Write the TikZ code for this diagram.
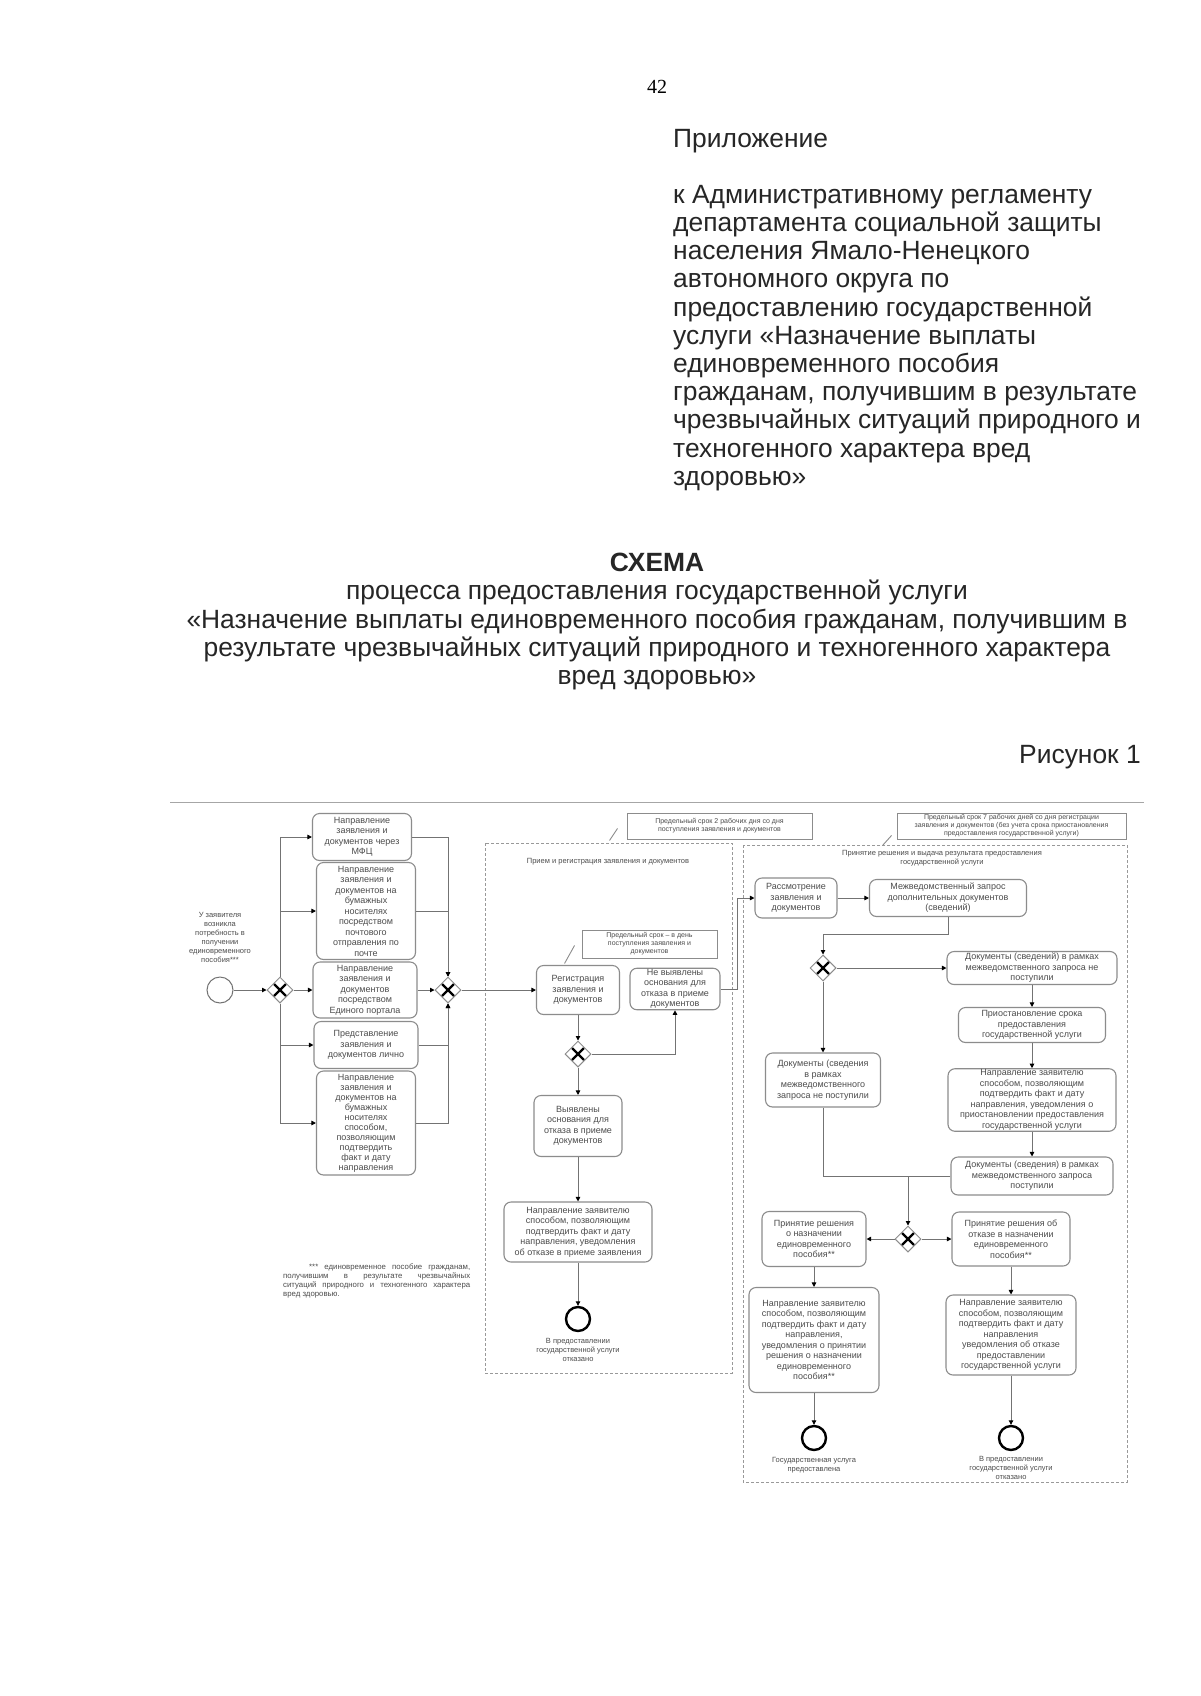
\documentclass[tikz,border=0pt]{standalone}
\usepackage{fontspec}
\setmainfont{Liberation Sans}
\newfontfamily\pagenumfont{Liberation Serif}
\usetikzlibrary{arrows.meta,positioning,calc,shapes.geometric}

\begin{document}
\begin{tikzpicture}[
  x=1pt, y=-1pt,
  node distance=4pt,
  head/.style={font=\fontsize{26.4}{28.2}\selectfont, inner sep=0pt, text=black!85},
  task/.style={draw=black!45, line width=1.1pt, rounded corners=7pt, align=center,
               inner sep=1pt, text=black!70, font=\fontsize{9}{10.5}\selectfont},
  gw/.style={diamond, draw=black!45, line width=1pt, minimum size=26pt, inner sep=0pt,
             path picture={\draw[black, line width=2.4pt]
               ([shift={(-6,-6)}]path picture bounding box.center) -- ++(12,12)
               ([shift={(-6,6)}]path picture bounding box.center) -- ++(12,-12);}},
  startev/.style={circle, draw=black!55, line width=1pt, minimum size=26pt, inner sep=0pt},
  endev/.style={circle, draw=black, line width=2.4pt, minimum size=24pt, inner sep=0pt},
  note/.style={draw=black!45, line width=0.9pt, align=center, inner sep=1pt,
               text=black!70, font=\fontsize{7}{8}\selectfont},
  lbl/.style={align=center, inner sep=0pt, text=black!70, font=\fontsize{7.5}{9}\selectfont},
  region/.style={draw=black!40, line width=0.8pt, dash pattern=on 3pt off 2pt},
  arr/.style={-{Triangle[length=4.5pt, width=4.5pt, color=black]}, draw=black!55, line width=0.9pt},
  line/.style={draw=black!55, line width=0.9pt}
]
\useasboundingbox[fill=white] (0,0) rectangle (1200,1696);

\node[font=\pagenumfont\fontsize{20}{24}\selectfont] (pnum) at (657,87) {42};
\node[head, anchor=west] (appx) at (673,141) {Приложение};
\node[head, anchor=north west, align=left] (appxtext) at (673,185)
  {к Административному регламенту\\
   департамента социальной защиты\\
   населения Ямало-Ненецкого\\
   автономного округа по\\
   предоставлению государственной\\
   услуги «Назначение выплаты\\
   единовременного пособия\\
   гражданам, получившим в результате\\
   чрезвычайных ситуаций природного и\\
   техногенного характера вред\\
   здоровью»};
\node[head, anchor=north, align=center] (title) at (657,553)
  {\textbf{СХЕМА}\\
   процесса предоставления государственной услуги\\
   «Назначение выплаты единовременного пособия гражданам, получившим в\\
   результате чрезвычайных ситуаций природного и техногенного характера\\
   вред здоровью»};
\node[head, anchor=east] (fig) at (1141,757) {Рисунок 1};

\draw[black!35, line width=1pt] (170,802) -- (1144,802);

\node[startev] (start) at (220,990) {};
\node[lbl, above=14pt of start] (startlbl)
  {У заявителя\\возникла\\потребность в\\получении\\единовременного\\пособия***};
\node[gw] (gwsplit) at (280,990) {};
\node[task, minimum width=99pt, minimum height=47pt] (mfc) at (362,837)
  {Направление\\заявления и\\документов через\\МФЦ};
\node[task, minimum width=99pt, minimum height=97pt] (post) at (366,911)
  {Направление\\заявления и\\документов на\\бумажных\\носителях\\посредством\\почтового\\отправления по\\почте};
\node[task, minimum width=104pt, minimum height=56pt] (portal) at (365,990)
  {Направление\\заявления и\\документов\\посредством\\Единого портала};
\node[task, minimum width=104pt, minimum height=47pt] (person) at (366,1045)
  {Представление\\заявления и\\документов лично};
\node[task, minimum width=99pt, minimum height=104pt, font=\fontsize{9}{10}\selectfont] (postconf) at (366,1123)
  {Направление\\заявления и\\документов на\\бумажных\\носителях\\способом,\\позволяющим\\подтвердить\\факт и дату\\направления};
\node[gw] (gwmerge) at (448,990) {};

\draw[arr] (start) -- (gwsplit);
\draw[arr] (gwsplit) |- (mfc);
\draw[arr] (gwsplit) |- (post);
\draw[arr] (gwsplit) -- (portal);
\draw[arr] (gwsplit) |- (person);
\draw[arr] (gwsplit) |- (postconf);
\draw[arr] (mfc) -| (gwmerge);
\draw[arr] (post) -| (gwmerge);
\draw[arr] (portal) -- (gwmerge);
\draw[arr] (person) -| (gwmerge);
\draw[arr] (postconf) -| (gwmerge);

\node[anchor=north west, text width=187pt, align=justify, inner sep=0pt, text=black!70,
      font=\fontsize{7.8}{8.8}\selectfont] (footnote) at (283,1264)
  {\hspace*{26pt}*** единовременное пособие гражданам,\linebreak
   получившим в результате чрезвычайных\linebreak
   ситуаций природного и техногенного характера\linebreak
   вред здоровью.};

\draw[region] (485,843) rectangle (732,1373);
\node[lbl] (region1lbl) at (608,862) {Прием и регистрация заявления и документов};
\node[note, minimum width=185pt, minimum height=26pt] (ann1) at (719.5,826)
  {Предельный срок 2 рабочих дня со дня\\поступления заявления и документов};
\draw[line, black!45] ([shift={(-17,1)}]ann1.south west) -- ++(8,-12);
\node[note, minimum width=135pt, minimum height=28pt] (ann2) at (649.5,944)
  {Предельный срок – в день\\поступления заявления и\\документов};
\draw[line, black!45] ([shift={(-17,5)}]ann2.south west) -- ++(10,-18);

\node[task, minimum width=83pt, minimum height=49pt] (reg) at (578,990)
  {Регистрация\\заявления и\\документов};
\node[task, minimum width=90pt, minimum height=41pt] (noground) at (675,989)
  {Не выявлены\\основания для\\отказа в приеме\\документов};
\node[gw] (gwcheck) at (578,1054) {};
\node[task, minimum width=88pt, minimum height=61pt] (ground) at (578,1126)
  {Выявлены\\основания для\\отказа в приеме\\документов};
\node[task, minimum width=148pt, minimum height=60pt] (refusal) at (578,1232)
  {Направление заявителю\\способом, позволяющим\\подтвердить факт и дату\\направления, уведомления\\об отказе в приеме заявления};
\node[endev] (endrefusal) at (578,1319) {};
\node[lbl, below=6pt of endrefusal] (endrefusallbl)
  {В предоставлении\\государственной услуги\\отказано};

\draw[arr] (gwmerge) -- (reg);
\draw[arr] (reg) -- (gwcheck);
\draw[arr] (gwcheck) -| (noground);
\draw[arr] (gwcheck) -- (ground);
\draw[arr] (ground) -- (refusal);
\draw[arr] (refusal) -- (endrefusal);

\draw[region] (743,845) rectangle (1127,1482);
\node[lbl] (region2lbl) at (942,858)
  {Принятие решения и выдача результата предоставления\\государственной услуги};
\node[note, minimum width=229pt, minimum height=26pt] (ann3) at (1011.5,826)
  {Предельный срок 7 рабочих дней со дня регистрации\\заявления и документов (без учета срока приостановления\\предоставления государственной услуги)};
\draw[line, black!45] ([shift={(-14,6)}]ann3.south west) -- ++(9,-10);

\node[task, minimum width=82pt, minimum height=40pt] (review) at (796,898)
  {Рассмотрение\\заявления и\\документов};
\node[task, minimum width=157pt, minimum height=37pt] (request) at (948,898)
  {Межведомственный запрос\\дополнительных документов\\(сведений)};
\node[gw] (gwdocs) at (823,968) {};
\node[task, minimum width=170pt, minimum height=33pt] (nodocs) at (1032,968)
  {Документы (сведений) в рамках\\межведомственного запроса не\\поступили};
\node[task, minimum width=115pt, minimum height=54pt] (nodocsleft) at (823,1080)
  {Документы (сведения\\в рамках\\межведомственного\\запроса не поступили};
\node[task, minimum width=147pt, minimum height=35pt] (suspend) at (1032,1025)
  {Приостановление срока\\предоставления\\государственной услуги};
\node[task, minimum width=168pt, minimum height=60pt] (suspnote) at (1032,1100)
  {Направление заявителю\\способом, позволяющим\\подтвердить факт и дату\\направления, уведомления о\\приостановлении предоставления\\государственной услуги};
\node[task, minimum width=162pt, minimum height=38pt] (docs) at (1032,1176)
  {Документы (сведения) в рамках\\межведомственного запроса\\поступили};
\coordinate (join) at (908,1176);
\node[gw] (gwdecide) at (908,1239) {};
\node[task, minimum width=104pt, minimum height=55pt] (grant) at (814,1239)
  {Принятие решения\\о назначении\\единовременного\\пособия**};
\node[task, minimum width=118pt, minimum height=54pt] (deny) at (1011,1239)
  {Принятие решения об\\отказе в назначении\\единовременного\\пособия**};
\node[task, minimum width=130pt, minimum height=105pt] (grantnote) at (814,1340)
  {Направление заявителю\\способом, позволяющим\\подтвердить факт и дату\\направления,\\уведомления о принятии\\решения о назначении\\единовременного\\пособия**};
\node[task, minimum width=130pt, minimum height=80pt] (denynote) at (1011,1335)
  {Направление заявителю\\способом, позволяющим\\подтвердить факт и дату\\направления\\уведомления об отказе\\предоставлении\\государственной услуги};
\node[endev] (endgrant) at (814,1438) {};
\node[lbl, below=6pt of endgrant] (endgrantlbl)
  {Государственная услуга\\предоставлена};
\node[endev] (enddeny) at (1011,1438) {};
\node[lbl, below=5pt of enddeny] (enddenylbl)
  {В предоставлении\\государственной услуги\\отказано};

\draw[arr] (noground.east) -- ++(17,0) |- (review);
\draw[arr] (review) -- (request);
\draw[arr] (request.south) -- ++(0,17) -| (gwdocs);
\draw[arr] (gwdocs) -- (nodocs);
\draw[arr] (gwdocs) -- (nodocsleft);
\draw[arr] (nodocs) -- (suspend);
\draw[arr] (suspend) -- (suspnote);
\draw[arr] (suspnote) -- (docs);
\draw[line] (nodocsleft) |- (join);
\draw[line] (docs) -- (join);
\draw[arr] (join) -- (gwdecide);
\draw[arr] (gwdecide) -- (grant);
\draw[arr] (gwdecide) -- (deny);
\draw[arr] (grant) -- (grantnote);
\draw[arr] (deny) -- (denynote);
\draw[arr] (grantnote) -- (endgrant);
\draw[arr] (denynote) -- (enddeny);
\end{tikzpicture}
\end{document}
